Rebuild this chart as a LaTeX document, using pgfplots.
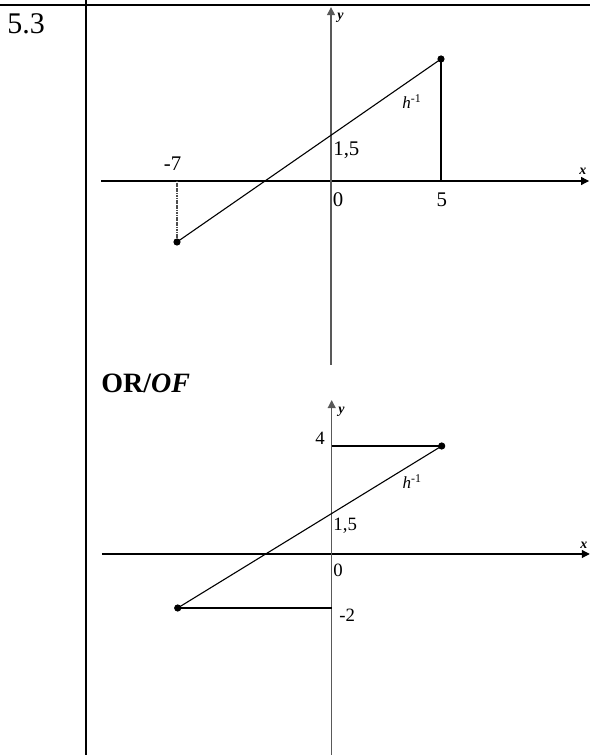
\documentclass[border=0pt]{standalone}
\usepackage{fontspec}
\setmainfont{Liberation Serif}
\usepackage{pgfplots}
\pgfplotsset{compat=1.18}
\usetikzlibrary{arrows.meta}

\pgfplotsset{
  sketch/.style={
    axis lines=middle, enlargelimits=false, clip=false,
    xtick=\empty, ytick=\empty, anchor=origin,
    x=11pt, xmin=-10.45, xmax=11.73,
    x axis line style={black, line width=0.55pt, -{Triangle[length=4pt,width=4pt]}},
    y axis line style={black!65, line width=0.55pt, -{Triangle[length=4pt,width=4pt]}},
  },
}
\tikzset{
  lbl/.style={inner sep=0pt, anchor=base west, font=\fontsize{10.4}{12}\selectfont},
  lblb/.style={inner sep=0pt, anchor=base west, font=\fontsize{9.4}{11}\selectfont},
  hinv/.style={inner sep=0pt, anchor=base west, font=\fontsize{8.5}{10}\selectfont},
  axlbl/.style={inner sep=0pt, anchor=base west, font=\fontsize{7}{8}\selectfont\bfseries\itshape},
}

\begin{document}
\begin{tikzpicture}
\path[use as bounding box] (0,0) rectangle (295pt,377.5pt);

% table frame
\draw[line width=1pt] (0,375.15pt) -- (295pt,375.15pt);
\draw[line width=1pt] (43pt,377.5pt) -- (43pt,0);
\node[inner sep=0pt, anchor=base west, font=\fontsize{15}{18}\selectfont] at (3.5pt,360.5pt) {5.3};
\node[inner sep=0pt, anchor=base west, font=\fontsize{14}{17}\selectfont\bfseries] at (50.5pt,181pt) {OR/\textit{OF}};

% first sketch
\begin{axis}[sketch, at={(165.5pt,287pt)}, y=15.25pt, ymin=-6.03, ymax=5.70]
\addplot[black!70, line width=0.6pt, dash pattern=on 0.6pt off 0.25pt] coordinates {(-7,0) (-7,-2)};
\addplot[black, line width=0.6pt] coordinates {(5,0) (5,4)};
\addplot[black, line width=0.55pt, mark=*, mark size=1.5pt] coordinates {(-7,-2) (5,4)};
\node[lbl, anchor=base] at (axis cs:-7.2,0.36) {-7};
\node[lbl] at (axis cs:0.07,-0.85) {0};
\node[lbl, anchor=base] at (axis cs:5.04,-0.85) {5};
\node[lbl] at (axis cs:0.09,0.85) {1,5};
\node[hinv] at (axis cs:3.23,2.39) {\textit{h}\textsuperscript{-1}};
\node[axlbl] at (axis cs:0.27,5.31) {y};
\node[axlbl] at (axis cs:11.27,0.2) {x};
\end{axis}

% second sketch
\begin{axis}[sketch, at={(165.85pt,100.5pt)}, y=13.5pt, ymin=-7.44, ymax=5.70]
\addplot[black, line width=0.6pt] coordinates {(0,4) (5,4)};
\addplot[black, line width=0.6pt] coordinates {(-7,-2) (0,-2)};
\addplot[black, line width=0.55pt, mark=*, mark size=1.5pt] coordinates {(-7,-2) (5,4)};
\node[lblb, anchor=base east] at (axis cs:-0.30,4.04) {4};
\node[lblb] at (axis cs:0.06,0.86) {1,5};
\node[lblb] at (axis cs:0.06,-0.84) {0};
\node[lblb] at (axis cs:0.33,-2.51) {-2};
\node[hinv] at (axis cs:3.21,2.44) {\textit{h}\textsuperscript{-1}};
\node[axlbl] at (axis cs:0.29,5.22) {y};
\node[axlbl] at (axis cs:11.28,0.22) {x};
\end{axis}
\end{tikzpicture}
\end{document}
